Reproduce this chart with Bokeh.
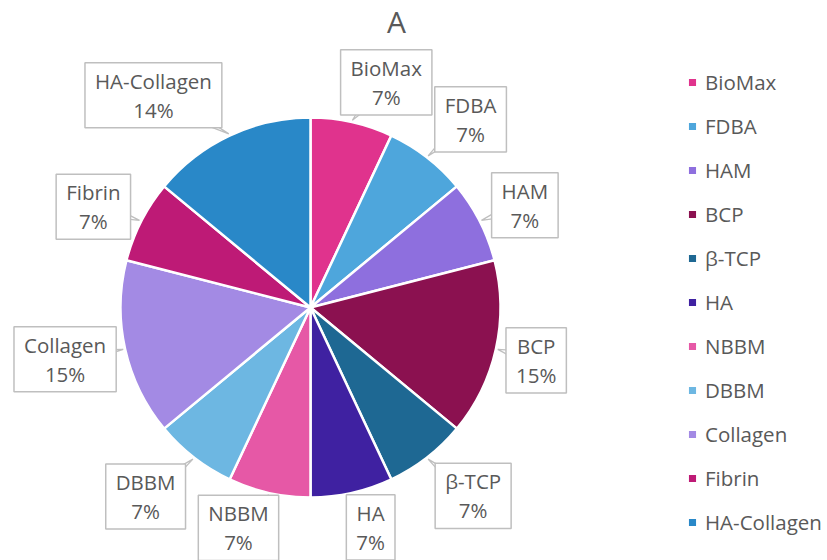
import math
from bokeh.plotting import figure
from bokeh.models import ColumnDataSource, Range1d, Label, Legend, LegendItem
from bokeh.embed import file_html
from bokeh.resources import INLINE

# ---- data ----
categories = ["BioMax", "FDBA", "HAM", "BCP", "β-TCP", "HA", "NBBM", "DBBM",
              "Collagen", "Fibrin", "HA-Collagen"]
percent = [7, 7, 7, 15, 7, 7, 7, 7, 15, 7, 14]
colors = ["#E0338D", "#4EA6DC", "#8E6FDE", "#8B1150", "#1E6893", "#3F21A1",
          "#E658A6", "#6DB7E2", "#A38AE4", "#BE1A76", "#2988C8"]
title_text = "A"

# ---- layout (label placement: radius factor and angle nudge in degrees) ----
label_r = [1.25, 1.30, 1.25, 1.22, 1.31, 1.20, 1.22, 1.32, 1.32, 1.26, 1.39]
label_dang = [6, 2.6, 1.5, 0.6, -3, -2.7, 5.5, 3.3, 0.7, -2.1, -11.3]

FONT = "Open Sans"
TXT = "#595959"
R_PX = 190.0
CX, CY = 310.0, 307.0
W, H = 827, 560

total = float(sum(percent))
starts, ends, mids = [], [], []
cum = 0.0
for v in percent:
    a0 = math.pi / 2 - 2 * math.pi * (cum + v) / total
    a1 = math.pi / 2 - 2 * math.pi * cum / total
    starts.append(a0)
    ends.append(a1)
    mids.append(360.0 * (cum + v / 2) / total)  # degrees clockwise from top
    cum += v

p = figure(width=W, height=H, output_backend="svg", toolbar_location=None,
           x_range=Range1d(-CX / R_PX, (W - CX) / R_PX),
           y_range=Range1d((CY - H) / R_PX, CY / R_PX),
           min_border=0, outline_line_color=None)
p.axis.visible = False
p.grid.visible = False
p.background_fill_color = "white"

items = []
for i, cat in enumerate(categories):
    src = ColumnDataSource(dict(x=[0], y=[0], s=[starts[i]], e=[ends[i]]))
    r = p.wedge(x="x", y="y", radius=1.0, start_angle="s", end_angle="e",
                direction="anticlock", fill_color=colors[i], line_color="white",
                line_width=2.5, source=src)
    items.append(LegendItem(label=cat, renderers=[r]))

# callout pointers and boxes
for i, cat in enumerate(categories):
    th = math.radians(mids[i])
    tx, ty = 1.01 * math.sin(th), 1.01 * math.cos(th)
    thl = math.radians(mids[i] + label_dang[i])
    cx, cy = label_r[i] * math.sin(thl), label_r[i] * math.cos(thl)
    dx, dy = cx - tx, cy - ty
    d = math.hypot(dx, dy)
    nx, ny = -dy / d, dx / d
    hw = 9 / R_PX
    p.patch(x=[tx, cx + nx * hw, cx - nx * hw], y=[ty, cy + ny * hw, cy - ny * hw],
            fill_color="white", line_color="#BFBFBF", line_width=1.3)
    lab = Label(x=cx, y=cy, text=f"{cat}\n{percent[i]}%", text_align="center",
                text_baseline="middle", text_font=FONT, text_font_size="20.5px",
                text_color=TXT, text_line_height=1.04,
                background_fill_color="white", border_line_color="#BFBFBF",
                border_line_width=1.5, padding=(10, 4))
    p.add_layout(lab)

p.add_layout(Label(x=(396 - CX) / R_PX, y=(CY - 21) / R_PX, text=title_text,
                   text_align="center", text_baseline="middle", text_font=FONT,
                   text_font_size="30px", text_color=TXT))

legend = Legend(items=items, location=(686, 24), orientation="vertical",
                glyph_width=12, glyph_height=12, label_height=20, spacing=16,
                label_standoff=7, padding=0, margin=0, border_line_color=None,
                background_fill_alpha=0, label_text_font=FONT,
                label_text_font_size="20.5px", label_text_color=TXT)
p.add_layout(legend)

open("out.html", "w").write(file_html(p, INLINE))
